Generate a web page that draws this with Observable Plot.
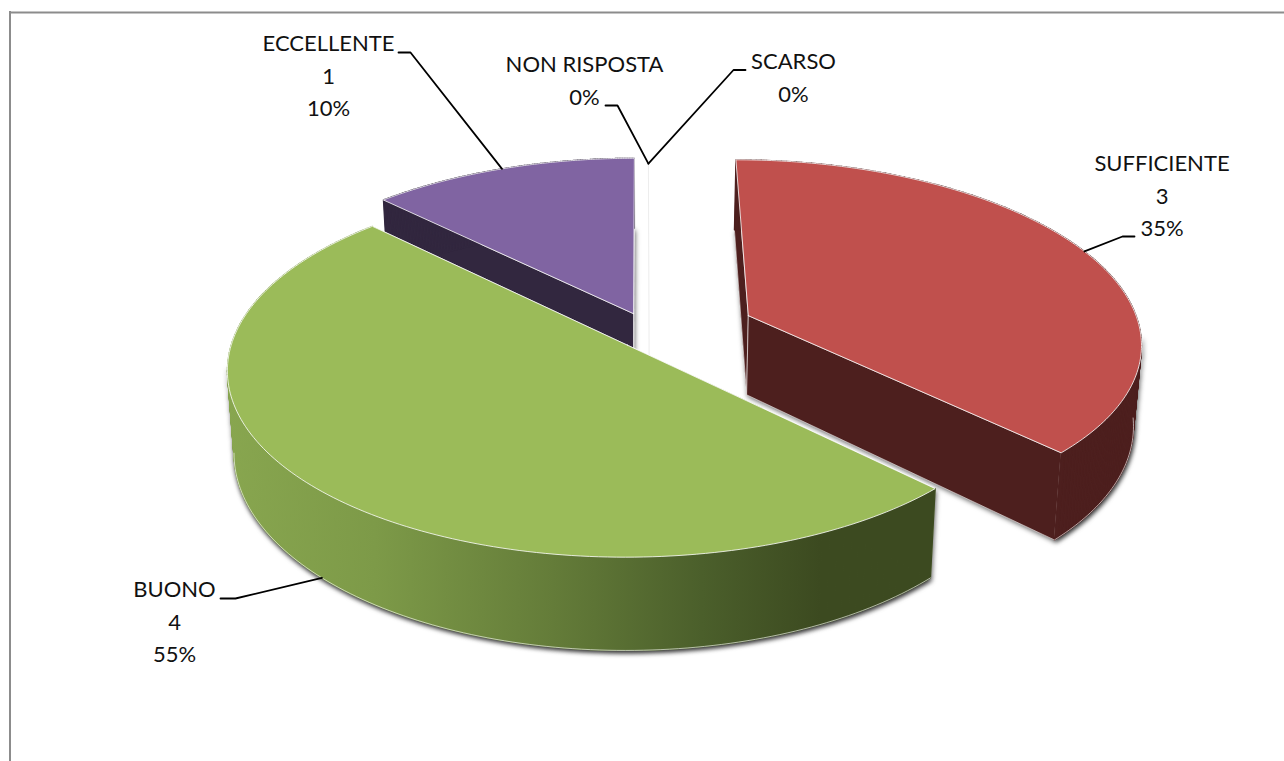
<!DOCTYPE html>
<html>
<head>
<meta charset="utf-8">
<script src="https://cdn.jsdelivr.net/npm/d3@7"></script>
<script src="https://cdn.jsdelivr.net/npm/@observablehq/plot@0.6"></script>
<style>
html,body{margin:0;padding:0;background:#fff;overflow:hidden}
svg{display:block}
</style>
</head>
<body>
<div id="chart"></div>
<script>
// ---- data ----
const categories = ["SCARSO", "SUFFICIENTE", "BUONO", "ECCELLENTE", "NON RISPOSTA"];
const counts = [0, 3, 4, 1, 0];
const percentLabels = ["0%", "35%", "55%", "10%", "0%"];

// ---- styles ----
const topColors = ["#ffffff", "#c0504d", "#9bbb59", "#8064a2", "#ffffff"];
const sideColors = ["#f2f2f2", "#4d1f1e", "url(#greenSide)", "#32273f", "#f2f2f2"];
const shadowFills = ["#f2f2f2", "#4d1f1e", "#5d7435", "#32273f", "#f2f2f2"];
const drawOrder = [0, 4, 3, 1, 2];

// ---- layout: perspective view of the disc and the exploded slices ----
const view = {cx: 640, cy: 330, rx: 392, ry: 180, depth: 80, persp: 0.00073, taper: 0.016};
const explodeX = [9, 109, -13, -7, 9];
const explodeY = [-10, -15, 14.5, -17, -10];
const labelX = [793, 1161.5, 174, 328, 584];
const labelY = [58.5, 160.5, 586.5, 40.5, 61.5];
const lineStep = 32.5;
const elbowsX = [[745, 733], [1134, 1122], [220, 235], [398, 410], [605, 617]];
const elbowsY = [[69.5, 69.5], [236, 236], [598, 598], [52, 52], [105, 105]];
const leaderDepth = [0, 0, 1, 0, 0];

function project(i, u, v, z) {
  const X = explodeX[i] + view.rx * u;
  const Y = explodeY[i] + view.ry * v;
  const s = 1 / (1 - view.persp * Y);
  return {
    x: view.cx + X * s * (1 - view.taper * z),
    y: view.cy + Y * s + view.depth * s * z
  };
}
const rim = (i, a, z) => project(i, Math.sin(a), -Math.cos(a), z);

const arcs = d3.pie().sort(null).value(d => d)(counts);
const steps = 160;
const angleAt = (i, k) => arcs[i].startAngle + (arcs[i].endAngle - arcs[i].startAngle) * k / steps;
const arcPoints = (i, z) => d3.range(0, steps + 1).map(k => rim(i, angleAt(i, k), z));
const apex = (i, z) => project(i, 0, 0, z);
const closed = pts => [...pts, pts[0]];

const sector = (i, z) => closed([apex(i, z), ...arcPoints(i, z)]);
const radialWall = (i, a) => closed([apex(i, 0), rim(i, a, 0), rim(i, a, 1), apex(i, 1)]);
// the curved wall is swept as narrow strips so that its silhouette stays filled
const wallStrips = (i, keep = () => true) => d3.range(0, steps).filter(k => keep(angleAt(i, k))).flatMap(k => {
  const a0 = angleAt(i, k), a1 = angleAt(i, k + 1);
  return [rim(i, a0, 0), rim(i, a1, 0), rim(i, a1, 1), rim(i, a0, 1), rim(i, a0, 0)].map(p => ({...p, strip: k}));
});
// only the part of the rim that faces the viewer casts a shadow or gets a highlight
const facesViewer = a => -Math.cos(a) > 0.12;
const frontRim = i => d3.range(0, steps + 1).map(k => angleAt(i, k)).filter(facesViewer).map(a => rim(i, a, 1));

const polygon = (pts, options) => Plot.line(pts, {x: "x", y: "y", curve: "linear", ...options});
const edge = {stroke: "#fff", strokeOpacity: 0.6, strokeWidth: 1};
const shadow = {imageFilter: "drop-shadow(1.5px 2px 2.5px rgba(0,0,0,.6))"};

const sliceMarks = drawOrder.filter(i => counts[i] > 0).flatMap(i => [
  polygon(sector(i, 1), {fill: shadowFills[i], stroke: "none", ...shadow}),
  polygon(wallStrips(i, facesViewer), {z: "strip", fill: shadowFills[i], stroke: shadowFills[i], strokeWidth: 1, ...shadow}),
  polygon(radialWall(i, arcs[i].startAngle), {fill: sideColors[i], ...edge}),
  polygon(radialWall(i, arcs[i].endAngle), {fill: sideColors[i], ...edge}),
  polygon(wallStrips(i), {z: "strip", fill: sideColors[i], stroke: sideColors[i], strokeWidth: 1.2}),
  polygon(frontRim(i), {...edge}),
  polygon(sector(i, 0), {fill: topColors[i], stroke: "#fff", strokeOpacity: 0.8, strokeWidth: 1})
]);

const leaders = categories.map((c, i) => {
  const a = (arcs[i].startAngle + arcs[i].endAngle) / 2;
  return [
    {x: elbowsX[i][0], y: elbowsY[i][0]},
    {x: elbowsX[i][1], y: elbowsY[i][1]},
    rim(i, a, leaderDepth[i])
  ];
});

const labels = categories.map((c, i) => {
  const lines = [c, ...(counts[i] ? [counts[i]] : []), percentLabels[i]];
  return {text: lines.join("\n"), x: labelX[i], y: labelY[i] + (lines.length - 1) * lineStep / 2};
});

const svg = Plot.plot({
  width: 1284,
  height: 761,
  margin: 0,
  style: {background: "#fff"},
  x: {domain: [0, 1284], range: [0, 1284], axis: null},
  y: {domain: [0, 761], range: [0, 761], axis: null},
  marks: [
    Plot.ruleY([12], {x1: 9, x2: 1284, stroke: "#8c8c8c", strokeWidth: 2}),
    Plot.ruleX([9.5], {y1: 11, y2: 761, stroke: "#8c8c8c", strokeWidth: 2}),
    // zero-valued slices: a hairline at the top of the disc
    polygon([apex(0, 1), rim(0, 0, 0)], {stroke: "#ededed", strokeWidth: 1}),
    ...sliceMarks,
    ...leaders.map(pts => polygon(pts, {stroke: "#000", strokeWidth: 1.8})),
    Plot.text(labels, {
      x: "x", y: "y", text: "text",
      textAnchor: "middle",
      lineAnchor: "middle",
      lineHeight: lineStep / 22,
      fontFamily: "Lato",
      fontSize: 22,
      fill: "#111"
    })
  ]
});

const grad = d3.select(svg).insert("defs", ":first-child")
  .append("linearGradient")
  .attr("id", "greenSide")
  .attr("gradientUnits", "userSpaceOnUse")
  .attr("x1", 226).attr("x2", 820).attr("y1", 0).attr("y2", 0);
[[0, "#88a64f"], [0.25, "#7d9a48"], [0.55, "#647c39"], [0.8, "#4b5f2b"], [1, "#3c4a20"]]
  .forEach(([o, c]) => grad.append("stop").attr("offset", o).attr("stop-color", c));

document.getElementById("chart").append(svg);
</script>
</body>
</html>
